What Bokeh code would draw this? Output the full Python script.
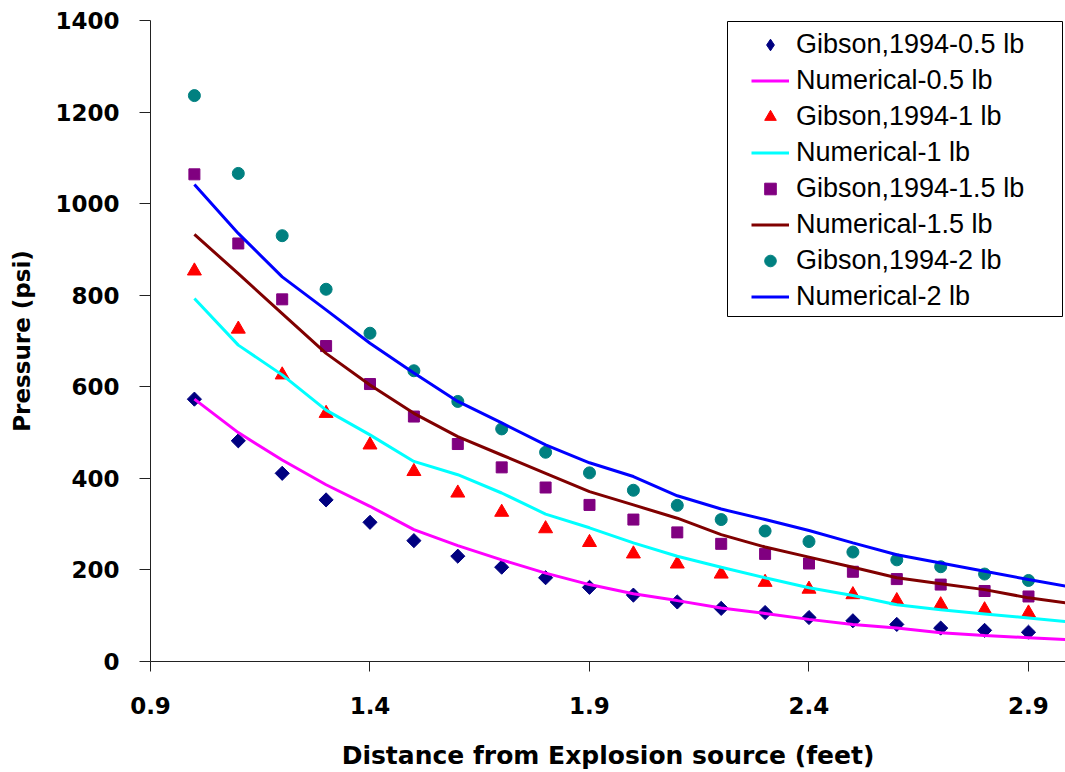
import numpy as np
from bokeh.plotting import figure
from bokeh.models import Legend, LegendItem, FixedTicker, BoxAnnotation, Range1d
from bokeh.embed import file_html
from bokeh.resources import INLINE

# ---- data -------------------------------------------------------------
gibson_x = [1.0, 1.1, 1.2, 1.3, 1.4, 1.5, 1.6, 1.7, 1.8, 1.9,
            2.0, 2.1, 2.2, 2.3, 2.4, 2.5, 2.6, 2.7, 2.8, 2.9]
gibson_05 = [573, 482, 411, 353, 304, 264, 230, 206, 183, 162,
             145, 130, 116, 107, 96, 89, 81, 73, 68, 64]
gibson_1 = [853, 726, 626, 542, 473, 415, 368, 326, 290, 260,
            235, 213, 191, 173, 158, 146, 133, 124, 113, 106]
gibson_15 = [1064, 913, 791, 689, 606, 535, 475, 424, 380, 342,
             310, 282, 257, 235, 214, 196, 180, 168, 154, 142]
gibson_2 = [1236, 1066, 930, 813, 717, 635, 568, 508, 457, 412,
            374, 341, 310, 285, 262, 239, 222, 207, 191, 177]

num_x = [1.0, 1.1, 1.2, 1.3, 1.4, 1.5, 1.6, 1.7, 1.8, 1.9, 2.0,
         2.1, 2.2, 2.3, 2.4, 2.5, 2.6, 2.7, 2.8, 2.9, 3.0]
num_05 = [573, 500, 440, 386, 339, 288, 253, 222, 193, 168, 148,
          133, 117, 105, 92, 81, 73, 63, 57, 52, 47]
num_1 = [793, 691, 626, 549, 495, 437, 408, 368, 322, 292, 259,
         230, 206, 183, 161, 144, 124, 113, 104, 95, 86]
num_15 = [933, 847, 760, 673, 604, 542, 491, 451, 411, 371, 342,
          313, 277, 250, 228, 206, 183, 170, 157, 139, 126]
num_2 = [1042, 935, 840, 768, 695, 630, 568, 521, 473, 434, 404,
         362, 333, 310, 286, 259, 233, 215, 197, 179, 162]

x_ticks = [0.9, 1.4, 1.9, 2.4, 2.9]
y_ticks = [0, 200, 400, 600, 800, 1000, 1200, 1400]

labels = ["Gibson,1994-0.5 lb", "Numerical-0.5 lb",
          "Gibson,1994-1 lb", "Numerical-1 lb",
          "Gibson,1994-1.5 lb", "Numerical-1.5 lb",
          "Gibson,1994-2 lb", "Numerical-2 lb"]

# ---- figure -----------------------------------------------------------
p = figure(width=1065, height=772, output_backend="svg", toolbar_location=None,
           x_range=Range1d(0.9, 2.9843), y_range=Range1d(0, 1400),
           min_border_left=150, min_border_right=0,
           min_border_top=20, min_border_bottom=110)
p.outline_line_color = None
p.grid.visible = False
p.background_fill_color = "white"
p.border_fill_color = "white"

BOLD_FONT = "DejaVu Sans"

for ax in (p.xaxis[0], p.yaxis[0]):
    ax.axis_line_color = "#222222"
    ax.axis_line_width = 1
    ax.major_tick_line_color = "#222222"
    ax.major_tick_in = 0
    ax.minor_tick_line_color = None
    ax.major_label_text_font = BOLD_FONT
    ax.major_label_text_font_style = "bold"
    ax.major_label_text_color = "black"
    ax.axis_label_text_font = BOLD_FONT
    ax.axis_label_text_font_style = "bold"
    ax.axis_label_text_color = "black"

xa = p.xaxis[0]
xa.ticker = FixedTicker(ticks=x_ticks)
xa.major_tick_out = 10
xa.major_label_standoff = 25
xa.major_label_text_font_size = "23px"
xa.axis_label = "Distance from Explosion source (feet)"
xa.axis_label_text_font_size = "25px"
xa.axis_label_standoff = 24

ya = p.yaxis[0]
ya.ticker = FixedTicker(ticks=y_ticks)
ya.major_tick_out = 11
ya.major_label_standoff = 20
ya.major_label_text_font_size = "23px"
ya.axis_label = "Pressure (psi)"
ya.axis_label_text_font_size = "23px"
ya.axis_label_standoff = 17

# ---- glyphs -----------------------------------------------------------
lw = 3
NAVY, MAGENTA, RED, CYAN = "#000080", "#FF00FF", "#FF0000", "#00FFFF"
PURPLE, MAROON, TEAL, BLUE = "#800080", "#800000", "#008080", "#0000FF"

r_g05 = p.scatter(gibson_x, gibson_05, marker="square", angle=np.pi / 4,
                  size=10, color=NAVY)
r_n05 = p.line(num_x, num_05, line_color=MAGENTA, line_width=lw)
r_g1 = p.scatter(gibson_x, gibson_1, marker="triangle", size=14, color=RED)
r_n1 = p.line(num_x, num_1, line_color=CYAN, line_width=lw)
r_g15 = p.scatter(gibson_x, gibson_15, marker="square", size=11, color=PURPLE)
r_n15 = p.line(num_x, num_15, line_color=MAROON, line_width=lw)
r_g2 = p.scatter(gibson_x, gibson_2, marker="circle", size=12, color=TEAL)
r_n2 = p.line(num_x, num_2, line_color=BLUE, line_width=lw)

# legend key for the diamond marker (legend swatches ignore angle);
# its only point is NaN, so it draws nothing inside the plot
r_g05_key = p.scatter(x=[float("nan")], y=[float("nan")], marker="diamond",
                      size=12, color=NAVY)

renderers = [r_g05_key, r_n05, r_g1, r_n1, r_g15, r_n15, r_g2, r_n2]

# ---- legend -----------------------------------------------------------
box = BoxAnnotation(left=577, right=912, bottom=345, top=640,
                    left_units="screen", right_units="screen",
                    top_units="screen", bottom_units="screen",
                    fill_color="white", fill_alpha=1.0,
                    line_color="black", line_alpha=1.0, line_width=1)
p.add_layout(box)

legend = Legend(items=[LegendItem(label=l, renderers=[r]) for l, r in zip(labels, renderers)],
                location=(601, 347), padding=4, spacing=0, margin=0,
                glyph_width=38, glyph_height=29, label_height=36,
                label_standoff=7,
                label_text_font="Liberation Sans", label_text_font_size="27px",
                label_text_color="black",
                border_line_color=None, background_fill_alpha=0.0)
p.add_layout(legend)

open("out.html", "w").write(file_html(p, INLINE))
